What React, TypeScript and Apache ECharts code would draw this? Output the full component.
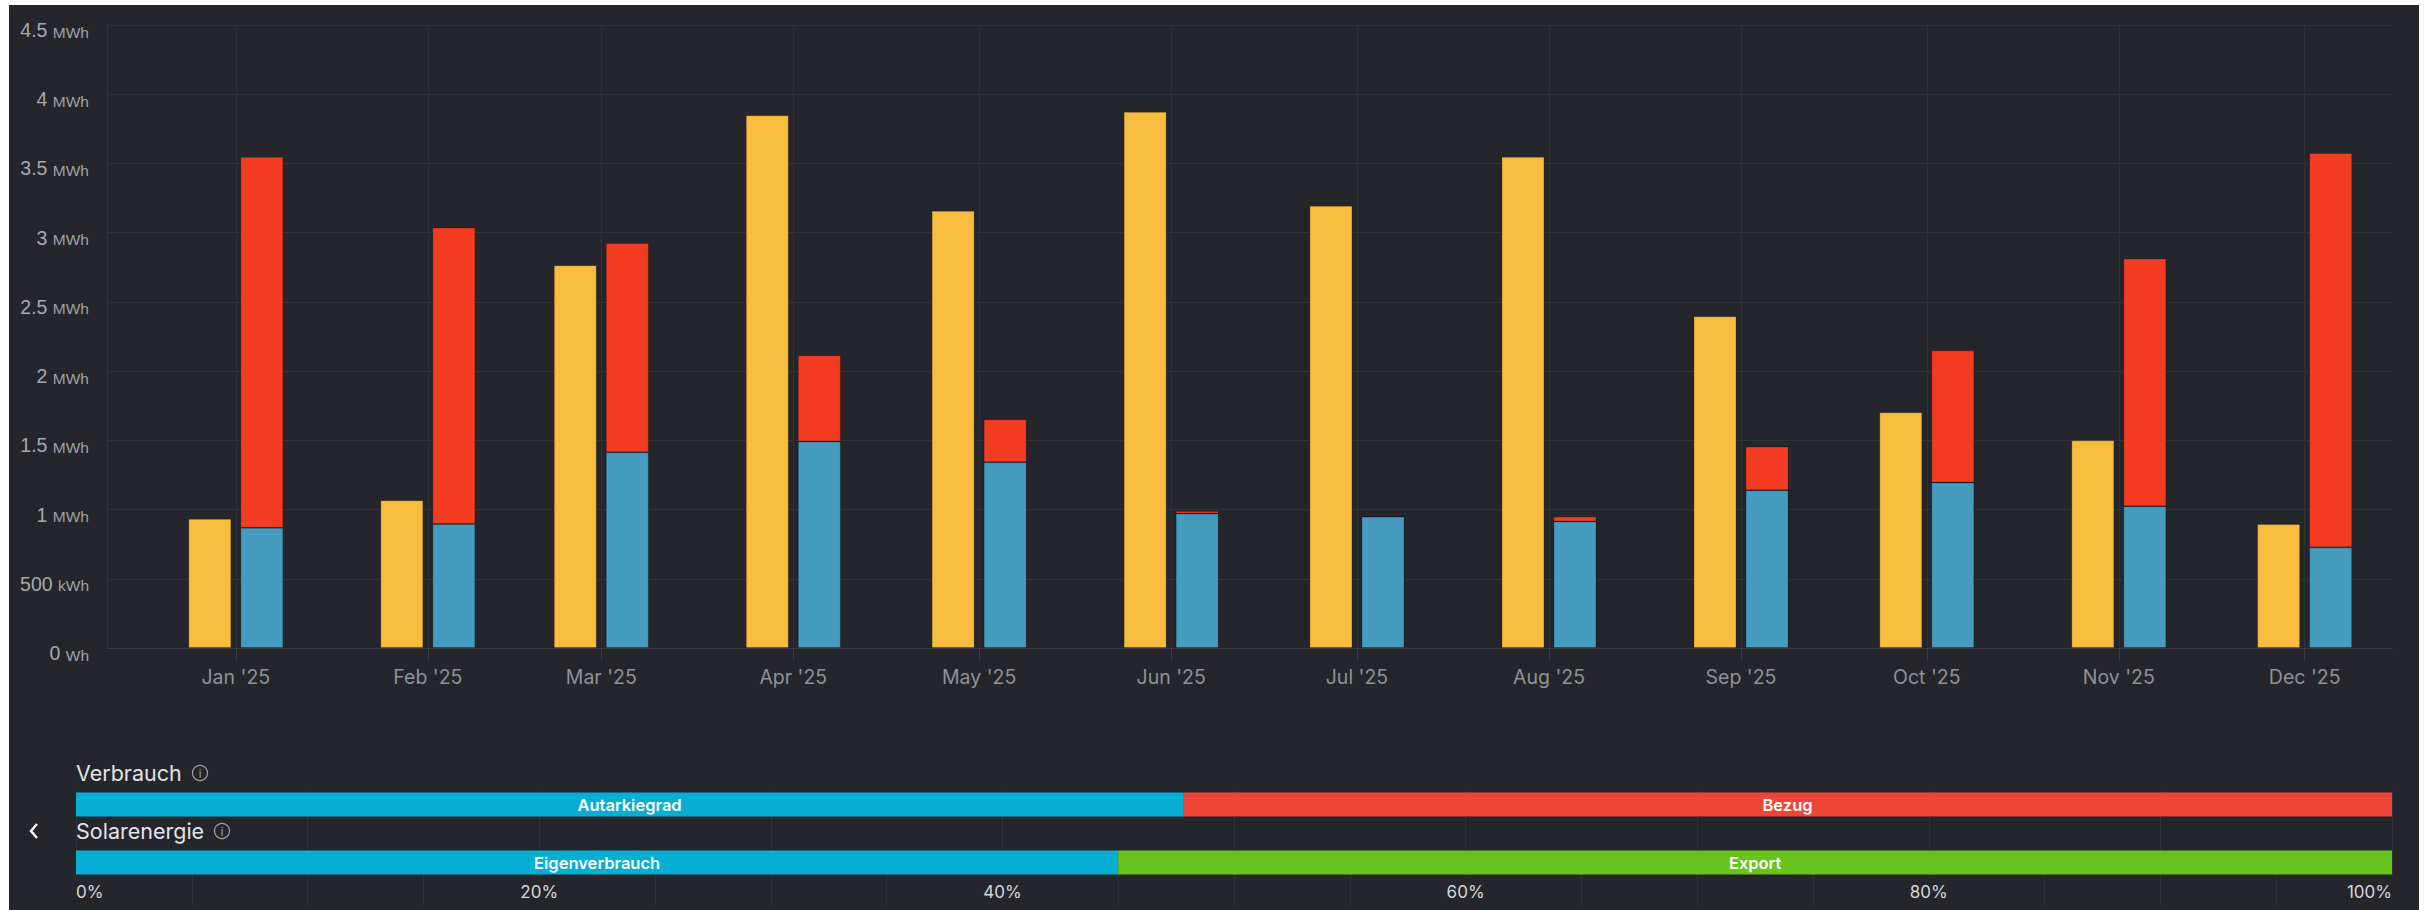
import React, { useEffect, useRef } from "react";
import * as echarts from "echarts";

// ---------- data ----------
const MONTH_LABELS = ["Jan '25", "Feb '25", "Mar '25", "Apr '25", "May '25", "Jun '25", "Jul '25", "Aug '25", "Sep '25", "Oct '25", "Nov '25", "Dec '25"];
// kWh
const SOLAR_KWH = [933, 1067, 2765, 3848, 3158, 3874, 3195, 3548, 2396, 1703, 1500, 896];
const SELF_KWH = [869, 896, 1414, 1492, 1342, 971, 949, 914, 1139, 1195, 1024, 727];
const GRID_KWH = [2679, 2141, 1511, 623, 310, 18, 0, 35, 316, 955, 1789, 2848];
const Y_MAX = 4500;
const Y_STEP = 500;

// percentages for the bottom bars
const VERBRAUCH_NAMES = ["Autarkiegrad", "Bezug"];
const VERBRAUCH_SHARES = [47.8, 52.2];
const SOLAR_NAMES = ["Eigenverbrauch", "Export"];
const SOLAR_SHARES = [45.0, 55.0];
const PCT_MAX = 100;
const PCT_LABEL_STEP = 20;

const DAY = 86400000;
const MONTH_STARTS = MONTH_LABELS.map((_, i) => Date.UTC(2025, i, 1));

const C_SOLAR = "#f8bc3f";
const C_SELF = "#469cbf";
const C_GRID = "#f43c22";
const C_CYAN = "#07aed3";
const C_RED = "#ef4538";
const C_GREEN = "#66c41c";
const GRIDLINE = "#30333b";

function yLabel(v: number): string {
  if (v === 0) return "{n|0 }{u|Wh}";
  if (v < 1000) return `{n|${v} }{u|kWh}`;
  return `{n|${v / 1000} }{u|MWh}`;
}

// [value, month-start] pairs; value first so that stacking acts on it
function pairs(values: number[]) {
  return MONTH_STARTS.map((t, i) => [values[i], t]);
}

export default function App() {
  const ref = useRef<HTMLDivElement | null>(null);

  useEffect(() => {
    if (!ref.current) return;
    const chart = echarts.init(ref.current, null, { renderer: "svg" });
    const font = "Inter, 'Noto Sans', sans-serif";
    const yFont = "'Liberation Sans', Arial, sans-serif";

    const monthBar = (name: string, values: number[], color: string, stack?: string) => ({
      name,
      type: "bar",
      xAxisIndex: 0,
      yAxisIndex: 0,
      encode: { x: 1, y: 0 },
      stack,
      barWidth: 43,
      barGap: "21%",
      itemStyle: { color, borderColor: "rgba(0,0,0,0.2)", borderWidth: 1 },
      data: pairs(values),
    });

    const option: any = {
      animation: false,
      backgroundColor: "transparent",
      grid: [
        { left: 107, right: 38, top: 25, bottom: 262, outerBoundsMode: "none", containLabel: false },
        { left: 76, right: 38, top: 790, height: 87, outerBoundsMode: "none", containLabel: false },
        { left: 76, right: 38, top: 874, height: 32, outerBoundsMode: "none", containLabel: false },
      ],
      xAxis: [
        {
          type: "value",
          gridIndex: 0,
          min: MONTH_STARTS[0] - 20.8 * DAY,
          max: MONTH_STARTS[11] + 14.1 * DAY,
          axisLine: { show: true, lineStyle: { color: "#373a42", width: 1 } },
          axisTick: { show: true, length: 12, lineStyle: { color: "#3a3d45" }, customValues: MONTH_STARTS },
          axisLabel: {
            customValues: MONTH_STARTS,
            formatter: (v: number) => {
              const i = MONTH_STARTS.indexOf(v);
              return i >= 0 ? MONTH_LABELS[i] : "";
            },
            color: "#8e9299",
            fontSize: 19.5,
            fontFamily: font,
            margin: 19,
            hideOverlap: false,
          },
          splitLine: { show: true, lineStyle: { color: "#2e3139", width: 1 } },
        },
        {
          type: "value",
          gridIndex: 1,
          min: 0,
          max: PCT_MAX,
          interval: 10,
          axisLine: { show: false },
          axisTick: { show: false },
          axisLabel: { show: false },
          splitLine: { show: true, lineStyle: { color: "#2f323a", width: 1 } },
        },
        {
          type: "value",
          gridIndex: 2,
          position: "top",
          min: 0,
          max: PCT_MAX,
          interval: PCT_LABEL_STEP,
          axisLine: { show: false },
          axisTick: { show: false },
          minorTick: { show: false, splitNumber: 4 },
          minorSplitLine: { show: true, lineStyle: { color: "#2f323a", width: 1 } },
          splitLine: { show: false },
          axisLabel: {
            show: true,
            inside: true,
            margin: 9,
            formatter: "{value}%",
            color: "#d6d7d9",
            fontSize: 17,
            fontFamily: font,
            alignMinLabel: "left",
            alignMaxLabel: "right",
          },
        },
      ],
      yAxis: [
        {
          type: "value",
          gridIndex: 0,
          min: 0,
          max: Y_MAX,
          interval: Y_STEP,
          axisLine: { show: true, lineStyle: { color: GRIDLINE } },
          axisTick: { show: false },
          splitLine: { show: true, lineStyle: { color: GRIDLINE, width: 1 } },
          axisLabel: {
            margin: 18,
            verticalAlign: "top",
            formatter: yLabel,
            rich: {
              n: { fontSize: 19.5, color: "#a6a9af", fontFamily: yFont, lineHeight: 15, verticalAlign: "bottom" },
              u: { fontSize: 15.5, color: "#9ea1a7", fontFamily: yFont, lineHeight: 15, verticalAlign: "bottom" },
            },
          },
        },
        {
          type: "category",
          gridIndex: 1,
          inverse: true,
          data: ["Verbrauch", "", "Solarenergie"],
          show: false,
        },
        {
          type: "category",
          gridIndex: 2,
          data: [""],
          show: false,
        },
      ],
      series: [
        monthBar("Solarenergie", SOLAR_KWH, C_SOLAR),
        monthBar("Eigenverbrauch", SELF_KWH, C_SELF, "verbrauch"),
        monthBar("Netzbezug", GRID_KWH, C_GRID, "verbrauch"),
        ...[
          { name: VERBRAUCH_NAMES[0], color: C_CYAN, data: [VERBRAUCH_SHARES[0], "-", "-"] },
          { name: VERBRAUCH_NAMES[1], color: C_RED, data: [VERBRAUCH_SHARES[1], "-", "-"] },
          { name: SOLAR_NAMES[0], color: C_CYAN, data: ["-", "-", SOLAR_SHARES[0]] },
          { name: SOLAR_NAMES[1], color: C_GREEN, data: ["-", "-", SOLAR_SHARES[1]] },
        ].map((s) => ({
          name: s.name,
          type: "bar",
          xAxisIndex: 1,
          yAxisIndex: 1,
          stack: "share",
          barWidth: 24,
          itemStyle: { color: s.color },
          label: {
            show: true,
            position: "inside",
            formatter: "{a}",
            color: "#ffffff",
            fontSize: 16.5,
            fontWeight: 600,
            fontFamily: font,
          },
          data: s.data,
        })),
      ],
      graphic: [
        { type: "text", x: 76, y: 773, style: { text: "Verbrauch", fontSize: 21.5, fill: "#e4e4e6", fontFamily: font, verticalAlign: "middle" } },
        { type: "circle", shape: { cx: 200, cy: 773, r: 7.5 }, style: { fill: "none", stroke: "#9fa2a8", lineWidth: 1.2 } },
        { type: "text", x: 200, y: 773.5, style: { text: "i", fontSize: 11, fill: "#9fa2a8", align: "center", verticalAlign: "middle", fontFamily: font } },
        { type: "text", x: 76, y: 831, style: { text: "Solarenergie", fontSize: 21.5, fill: "#e4e4e6", fontFamily: font, verticalAlign: "middle" } },
        { type: "circle", shape: { cx: 222, cy: 831, r: 7.5 }, style: { fill: "none", stroke: "#9fa2a8", lineWidth: 1.2 } },
        { type: "text", x: 222, y: 831.5, style: { text: "i", fontSize: 11, fill: "#9fa2a8", align: "center", verticalAlign: "middle", fontFamily: font } },
        { type: "polyline", shape: { points: [[37, 824], [31, 831], [37, 838]] }, style: { stroke: "#ffffff", lineWidth: 2.4, fill: "none" } },
      ],
    };

    chart.setOption(option);
    return () => chart.dispose();
  }, []);

  return (
    <div style={{ position: "fixed", left: 0, top: 0, width: 2430, height: 910, background: "#ffffff", overflow: "hidden" }}>
      <div style={{ position: "absolute", left: 9, top: 5, width: 2410, height: 905, background: "#25262b" }} />
      <div ref={ref} style={{ position: "absolute", left: 0, top: 0, width: 2430, height: 910 }} />
    </div>
  );
}
